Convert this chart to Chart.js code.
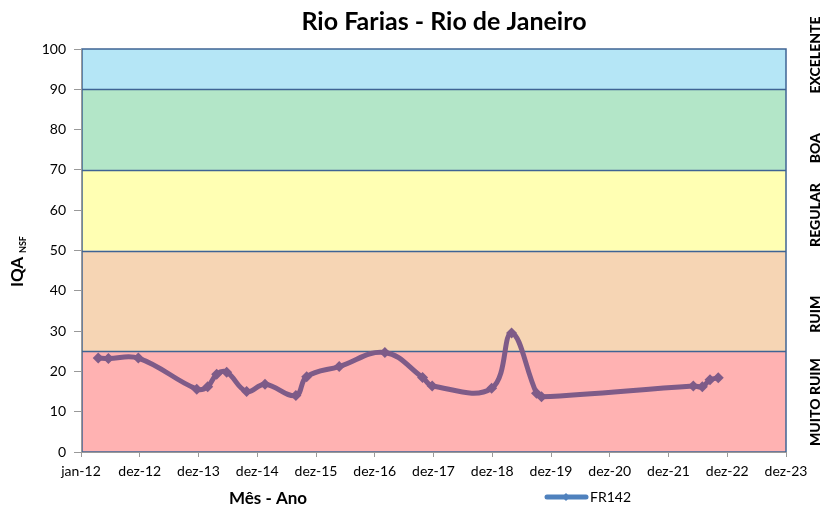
<!DOCTYPE html>
<html>
<head>
<meta charset="utf-8">
<script src="https://cdn.jsdelivr.net/npm/chart.js@4.4.1/dist/chart.umd.min.js"></script>
<style>
  html, body { margin: 0; padding: 0; background: #fff; }
  canvas { display: block; }
</style>
</head>
<body>
<canvas id="iqaChart" width="831" height="511"></canvas>
<script>
// tick labels of the date axis (one every 365 days from jan-12)
const xLabels = ['jan-12', 'dez-12', 'dez-13', 'dez-14', 'dez-15', 'dez-16', 'dez-17',
    'dez-18', 'dez-19', 'dez-20', 'dez-21', 'dez-22', 'dez-23'];

// station FR142 samples
const sampleDates = ['2012-04-17', '2012-06-19', '2012-12-22', '2013-12-20', '2014-02-26',
    '2014-04-23', '2014-06-24', '2014-10-26', '2015-02-17', '2015-08-28', '2015-11-03',
    '2016-05-23', '2017-03-03', '2017-10-23', '2017-12-22', '2018-12-26', '2019-04-29',
    '2019-10-01', '2019-11-01', '2022-06-01', '2022-07-27', '2022-09-13', '2022-11-03'];
const iqaValues = [23.3, 23.2, 23.3, 15.6, 16.2, 19.3, 19.8, 15.0, 16.8, 14.0, 18.7,
    21.2, 24.7, 18.5, 16.4, 15.8, 29.5, 14.6, 13.7, 16.4, 16.2, 17.9, 18.4];

// quality classes
const bandLimits = [0, 25, 50, 70, 90, 100];
const bandNames = ['MUITO RUIM', 'RUIM', 'REGULAR', 'BOA', 'EXCELENTE'];
const bandNameAt = [12.4, 34.2, 58.8, 75.4, 98.5];
const bandColors = ['#ffb2b2', '#f6d5b4', '#ffffb3', '#b3e6c8', '#b5e6f6'];

const dayZero = Date.parse('2012-01-01');
const toDays = d => (Date.parse(d) - dayZero) / 86400000;
const points = sampleDates.map((d, i) => ({ x: toDays(d), y: iqaValues[i] }));

const FONT = 'Lato, "Open Sans", sans-serif';

const bandsPlugin = {
    id: 'bands',
    beforeDraw(chart) {
        const { ctx, chartArea: a, scales: { y } } = chart;
        ctx.save();
        for (let i = 0; i < bandColors.length; i++) {
            const top = y.getPixelForValue(bandLimits[i + 1]);
            const bot = y.getPixelForValue(bandLimits[i]);
            ctx.fillStyle = bandColors[i];
            ctx.fillRect(a.left, top, a.right - a.left, bot - top);
        }
        ctx.strokeStyle = '#3f6494';
        ctx.lineWidth = 1.5;
        for (let i = 1; i < bandLimits.length - 1; i++) {
            const yy = Math.round(y.getPixelForValue(bandLimits[i])) + 0.5;
            ctx.beginPath();
            ctx.moveTo(a.left, yy);
            ctx.lineTo(a.right, yy);
            ctx.stroke();
        }
        ctx.strokeRect(a.left + 1, a.top, a.right - a.left - 1, a.bottom - a.top);
        ctx.restore();
    },
    afterDraw(chart) {
        const { ctx, scales: { y } } = chart;
        ctx.save();
        ctx.fillStyle = '#000';
        ctx.textAlign = 'center';
        ctx.textBaseline = 'middle';

        // title
        ctx.font = 'bold 25px ' + FONT;
        ctx.fillText('Rio Farias - Rio de Janeiro', 444, 22);

        // x axis title
        ctx.font = 'bold 17px ' + FONT;
        ctx.fillText('Mês - Ano', 268, 499);

        // y axis title with subscript
        ctx.save();
        ctx.translate(18, 272);
        ctx.rotate(-Math.PI / 2);
        ctx.font = 'bold 17px ' + FONT;
        ctx.fillText('IQA', 0, 0);
        ctx.font = 'bold 9px ' + FONT;
        ctx.textAlign = 'left';
        ctx.fillText('NSF', 19, 5);
        ctx.restore();

        // class names on the right
        ctx.font = '900 14px ' + FONT;
        bandNames.forEach((name, i) => {
            ctx.save();
            ctx.translate(815, y.getPixelForValue(bandNameAt[i]));
            ctx.rotate(-Math.PI / 2);
            ctx.fillText(name, 0, 0);
            ctx.restore();
        });

        // legend
        ctx.strokeStyle = '#4f81bd';
        ctx.fillStyle = '#4f81bd';
        ctx.lineWidth = 5;
        ctx.lineCap = 'round';
        ctx.beginPath();
        ctx.moveTo(547, 497);
        ctx.lineTo(586, 497);
        ctx.stroke();
        ctx.beginPath();
        ctx.moveTo(566, 493); ctx.lineTo(570, 497); ctx.lineTo(566, 501); ctx.lineTo(562, 497);
        ctx.fill();
        ctx.fillStyle = '#000';
        ctx.textAlign = 'left';
        ctx.font = '14px ' + FONT;
        ctx.fillText('FR142', 590, 497);
        ctx.restore();
    }
};

const lineColor = '#7e5b88';

new Chart(document.getElementById('iqaChart'), {
    type: 'line',
    data: {
        datasets: [{
            label: 'FR142',
            data: points,
            borderColor: lineColor,
            backgroundColor: lineColor,
            borderWidth: 5,
            pointStyle: 'rectRot',
            pointRadius: 5.5,
            pointBorderWidth: 0,
            tension: 0.4,
            fill: false,
            clip: false,
        }]
    },
    options: {
        responsive: false,
        animation: false,
        layout: { padding: { top: 49, right: 45, left: 0, bottom: 0 } },
        plugins: {
            legend: { display: false },
            title: { display: false },
            tooltip: { enabled: false },
        },
        scales: {
            x: {
                type: 'linear',
                min: 0,
                max: 4380,
                afterFit: s => { s.height = 59; },
                grid: { drawOnChartArea: false, tickLength: 5, color: '#999' },
                border: { color: '#999' },
                ticks: {
                    stepSize: 365,
                    autoSkip: false,
                    maxRotation: 0,
                    padding: 6,
                    color: '#000',
                    font: { family: FONT, size: 14 },
                    callback: v => xLabels[Math.round(v / 365)],
                }
            },
            y: {
                min: 0,
                max: 100,
                afterFit: s => { s.width = 81; },
                grid: { drawOnChartArea: false, tickLength: 7, color: '#999' },
                border: { color: '#999' },
                ticks: {
                    stepSize: 10,
                    padding: 8,
                    color: '#000',
                    font: { family: FONT, size: 14 },
                }
            }
        }
    },
    plugins: [bandsPlugin]
});
</script>
</body>
</html>
